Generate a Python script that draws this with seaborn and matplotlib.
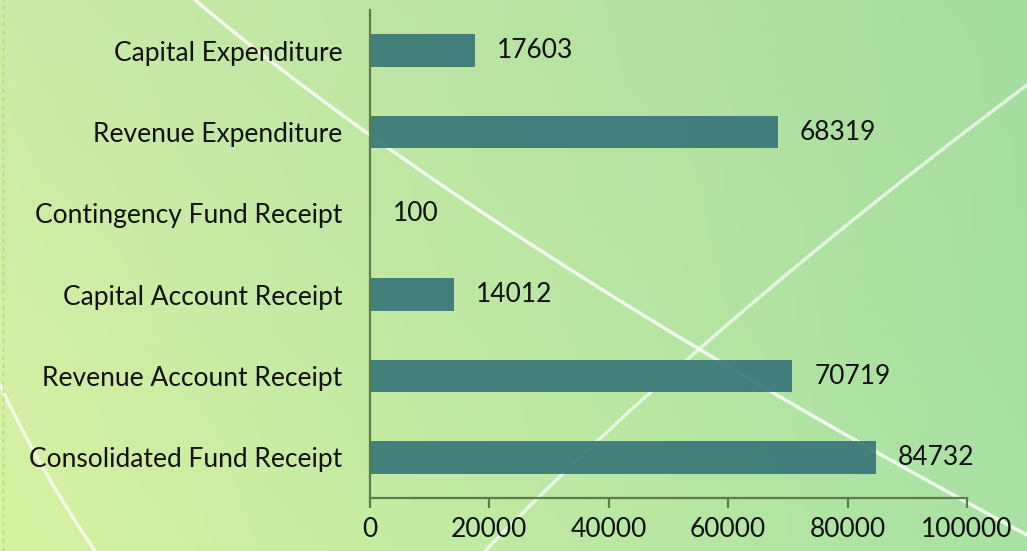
import numpy as np
import matplotlib
matplotlib.use("Agg")
import matplotlib.pyplot as plt
import seaborn as sns
from matplotlib.colors import to_rgb

# data, top to bottom as in the chart
categories = [
    "Capital Expenditure",
    "Revenue Expenditure",
    "Contingency Fund Receipt",
    "Capital Account Receipt",
    "Revenue Account Receipt",
    "Consolidated Fund Receipt",
]
values = [17603, 68319, 100, 14012, 70719, 84732]
x_ticks = [0, 20000, 40000, 60000, 80000, 100000]

sns.set_style("white")
plt.rcParams["font.family"] = ["Lato", "DejaVu Sans"]

W, H = 1027, 551
fig = plt.figure(figsize=(W / 100, H / 100), dpi=100)

# background gradient + decorative white curves
bg = fig.add_axes([0, 0, 1, 1], zorder=0)
tl, tr = np.array(to_rgb("#cdeaa8")), np.array(to_rgb("#a6dda0"))
bl, br = np.array(to_rgb("#d8f2a2")), np.array(to_rgb("#a8e2a4"))
u = np.linspace(0, 1, 200)[None, :, None]
v = np.linspace(0, 1, 120)[:, None, None]
grad = (1 - v) * ((1 - u) * tl + u * tr) + v * ((1 - u) * bl + u * br)
bg.imshow(grad, extent=[0, W, H, 0], aspect="auto")


def bez(p0, p1, p2):
    t = np.linspace(0, 1, 100)[:, None]
    p = (1 - t) ** 2 * np.array(p0) + 2 * (1 - t) * t * np.array(p1) + t ** 2 * np.array(p2)
    return p[:, 0], p[:, 1]


for p0, p1, p2, a in [((195, 0), (480, 240), (1027, 535), 0.8),
                      ((485, 551), (700, 330), (1027, 85), 0.65),
                      ((0, 385), (40, 470), (95, 551), 0.75)]:
    bx, by = bez(p0, p1, p2)
    bg.plot(bx, by, color="white", lw=2.5, alpha=a, solid_capstyle="round")
bg.axvline(3, color="#b8d870", lw=1, ls=(0, (3, 3)))
bg.set_xlim(0, W)
bg.set_ylim(H, 0)
bg.axis("off")

# main bar chart
ax = fig.add_axes([370 / W, 1 - 498 / H, (967 - 370) / W, (498 - 10) / H], zorder=1)
ax.patch.set_alpha(0)
sns.barplot(x=values, y=categories, orient="h", color="#3a7879", width=0.4,
            saturation=1, alpha=0.93, linewidth=0, ax=ax)
ax.bar_label(ax.containers[0], padding=16, fontsize=19, color="#111111")

ax.set_xlim(0, 100000)
ax.set_ylim(5.5, -0.5)
ax.set_xticks(x_ticks)
ax.set_xticklabels([str(t) for t in x_ticks])
ax.set_yticks(np.arange(-0.5, 6, 1), minor=True)
ax.set_xlabel("")
ax.set_ylabel("")

axis_col = "#5c7c4c"
for s in ["top", "right"]:
    ax.spines[s].set_visible(False)
for s in ["left", "bottom"]:
    ax.spines[s].set_color(axis_col)
    ax.spines[s].set_linewidth(1.6)
ax.tick_params(axis="y", which="major", length=0, pad=20, labelsize=19, labelcolor="#111111")
ax.tick_params(axis="y", which="minor", length=7, width=1.6, color=axis_col)
ax.tick_params(axis="x", which="major", length=7, width=1.6, color=axis_col,
               pad=7, labelsize=19, labelcolor="#111111", direction="out", bottom=True)

fig.savefig("out.png", dpi=100)
